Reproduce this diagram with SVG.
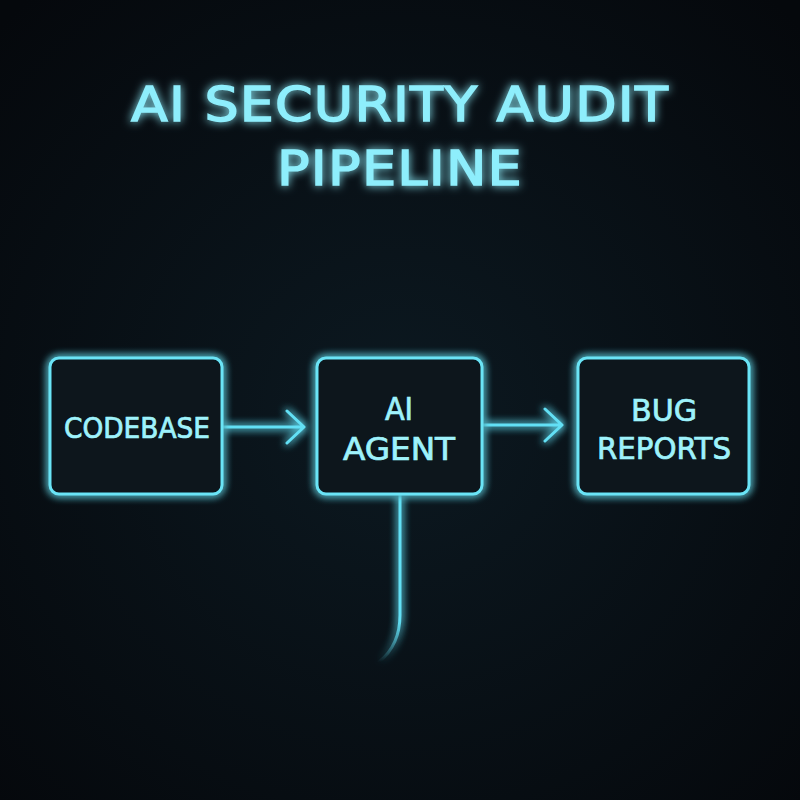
<svg xmlns="http://www.w3.org/2000/svg" width="800" height="800" viewBox="0 0 800 800">
<defs>
<radialGradient id="bg" cx="50%" cy="52%" r="70%">
<stop offset="0" stop-color="#0c1921"/>
<stop offset="1" stop-color="#05080c"/>
</radialGradient>
<filter id="glow" x="-30%" y="-30%" width="160%" height="160%">
<feGaussianBlur in="SourceGraphic" stdDeviation="4" result="b"/>
<feMerge><feMergeNode in="b"/><feMergeNode in="b"/><feMergeNode in="SourceGraphic"/></feMerge>
</filter>
<filter id="tglow" x="-20%" y="-50%" width="140%" height="200%">
<feGaussianBlur in="SourceGraphic" stdDeviation="5" result="b"/>
<feMerge><feMergeNode in="b"/><feMergeNode in="SourceGraphic"/></feMerge>
</filter>
<linearGradient id="fade" x1="0" y1="0" x2="0" y2="1">
<stop offset="0" stop-color="#62e0f5"/>
<stop offset="0.75" stop-color="#62e0f5"/>
<stop offset="1" stop-color="#62e0f5" stop-opacity="0"/>
</linearGradient>
</defs>
<style>
.box{fill:#07141c;stroke:#6ae4f6;stroke-width:3}
.lbl{font-family:"DejaVu Sans Condensed","Liberation Sans",sans-serif;fill:#9ef2fb;stroke:#9ef2fb;stroke-width:0.7;text-anchor:middle}
.title{font-family:"DejaVu Sans Condensed","Liberation Sans",sans-serif;fill:#8eeefc;stroke:#8eeefc;stroke-width:1.3;text-anchor:middle;font-size:48px;letter-spacing:1px}
.conn{fill:none;stroke:#62e0f5;stroke-width:3;stroke-linecap:round;stroke-linejoin:round}
</style>
<rect width="800" height="800" fill="url(#bg)"/>
<g id="title" filter="url(#tglow)">
<text class="title" x="400" y="121" textLength="538" lengthAdjust="spacingAndGlyphs">AI SECURITY AUDIT</text>
<text class="title" x="400" y="185" textLength="246" lengthAdjust="spacingAndGlyphs">PIPELINE</text>
</g>
<g id="connectors" filter="url(#glow)">
<path class="conn" d="M222 427 H303 M287 411 L304 427 L287 443"/>
<path class="conn" d="M482 425 H561 M545 409 L562 425 L545 441"/>
<path d="M400 494 V615 Q400 645 379 662" fill="none" stroke="url(#fade)" stroke-width="3" stroke-linecap="round"/>
</g>
<g id="codebase">
<rect class="box" x="50" y="358" width="172" height="136" rx="9" filter="url(#glow)"/>
<text class="lbl" x="137" y="438" font-size="28" textLength="146" lengthAdjust="spacingAndGlyphs">CODEBASE</text>
</g>
<g id="ai-agent">
<rect class="box" x="317" y="358" width="165" height="136" rx="9" filter="url(#glow)"/>
<text class="lbl" x="399" y="420" font-size="32">AI</text>
<text class="lbl" x="399" y="460" font-size="32" textLength="112" lengthAdjust="spacingAndGlyphs">AGENT</text>
</g>
<g id="bug-reports">
<rect class="box" x="578" y="358" width="171" height="136" rx="9" filter="url(#glow)"/>
<text class="lbl" x="664" y="421" font-size="31" textLength="66" lengthAdjust="spacingAndGlyphs">BUG</text>
<text class="lbl" x="664" y="459" font-size="31" textLength="134" lengthAdjust="spacingAndGlyphs">REPORTS</text>
</g>
</svg>
